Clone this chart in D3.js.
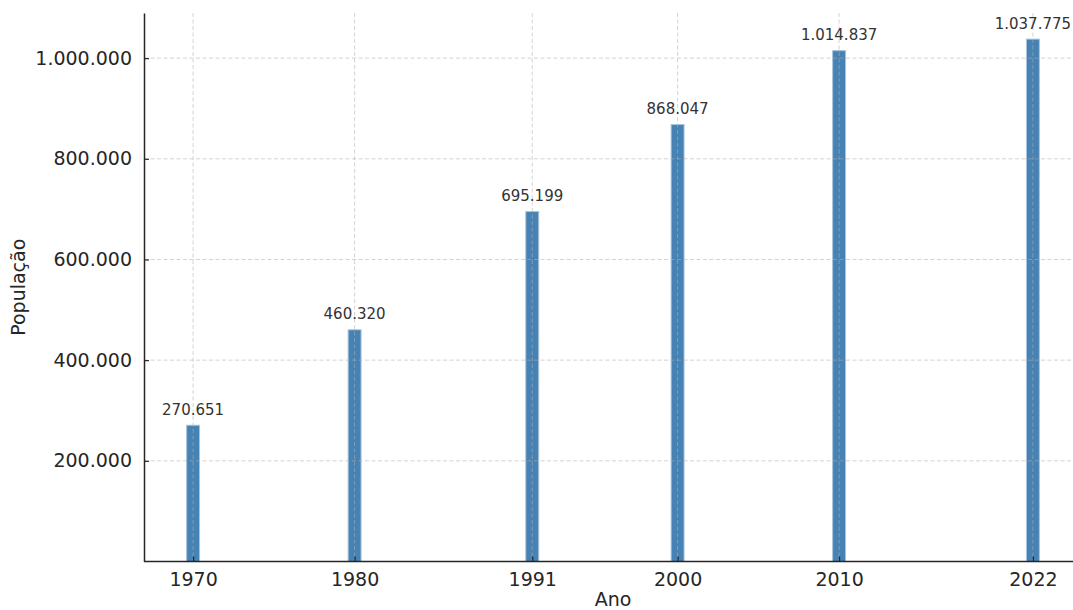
<!DOCTYPE html>
<html><head><meta charset="utf-8">
<script src="https://cdn.jsdelivr.net/npm/d3@7"></script>
<style>body{margin:0;background:#fff;} svg{display:block;font-family:"DejaVu Sans",sans-serif;}</style>
</head><body>
<svg id="c" width="1073" height="610"></svg>
<script>
const years = [1970, 1980, 1991, 2000, 2010, 2022];
const population = [270651, 460320, 695199, 868047, 1014837, 1037775];
const yTicks = [200000, 400000, 600000, 800000, 1000000];

(function () {
const svg = d3.select("#c");
const mL = 144, mR = 1082, mT = 13, mB = 561.5;
const x = d3.scaleLinear().domain([1966.96, 2025.04]).range([mL, mR]);
const y = d3.scaleLinear().domain([0, 1037775 * 1.05]).range([mB, mT]);
const fmt = v => d3.format(",")(v).replace(/,/g, ".");
const barW = x(0.8) - x(0);

// bars
svg.append("g").selectAll("rect").data(years).join("rect")
  .attr("x", (d) => x(d - 0.4))
  .attr("width", barW)
  .attr("y", (d, i) => y(population[i]))
  .attr("height", (d, i) => y(0) - y(population[i]))
  .attr("fill", "#4682b4")
  .attr("stroke", "#a9c3da").attr("stroke-width", 1);

// grid
const grid = svg.append("g").attr("stroke", "#b0b0b0").attr("stroke-opacity", 0.7)
  .attr("stroke-dasharray", "4,2.5").attr("stroke-width", 0.8);
grid.selectAll("line.h").data(yTicks).join("line").attr("class", "h")
  .attr("x1", mL).attr("x2", 1073).attr("y1", d => y(d)).attr("y2", d => y(d));
grid.selectAll("line.v").data(years).join("line").attr("class", "v")
  .attr("x1", d => x(d)).attr("x2", d => x(d)).attr("y1", mT).attr("y2", mB);

// axes
const xAxis = d3.axisBottom(x).tickValues(years).tickFormat(d3.format("d")).tickSizeInner(-5).tickSizeOuter(0).tickPadding(11);
const gx = svg.append("g").attr("transform", `translate(0,${mB})`).call(xAxis);
const yAxis = d3.axisLeft(y).tickValues(yTicks).tickFormat(fmt).tickSizeInner(-5).tickSizeOuter(0).tickPadding(12);
const gy = svg.append("g").attr("transform", `translate(${mL},0)`).call(yAxis);
[gx, gy].forEach(g => {
  g.selectAll("text").attr("font-size", 19).attr("fill", "#262626").attr("font-family", "DejaVu Sans");
  g.selectAll("line").attr("stroke", "#262626").attr("stroke-width", 1.2);
  g.select(".domain").attr("stroke", "#262626").attr("stroke-width", 1.5);
});
gx.select(".domain").attr("d", `M${mL},0H1073`);

// value labels
svg.append("g").selectAll("text").data(years).join("text")
  .attr("x", d => x(d))
  .attr("y", (d, i) => y(population[i]) - 10.5)
  .attr("text-anchor", "middle")
  .attr("font-size", 15).attr("fill", "#333")
  .text((d, i) => fmt(population[i]));

// titles
svg.append("text").attr("x", x(1996)).attr("y", 606).attr("text-anchor", "middle")
  .attr("font-size", 19).attr("fill", "#262626").text("Ano");
svg.append("text").attr("transform", `translate(25,${(mT + mB) / 2}) rotate(-90)`)
  .attr("text-anchor", "middle").attr("font-size", 19).attr("fill", "#262626").text("População");
})();
</script>
</body></html>
